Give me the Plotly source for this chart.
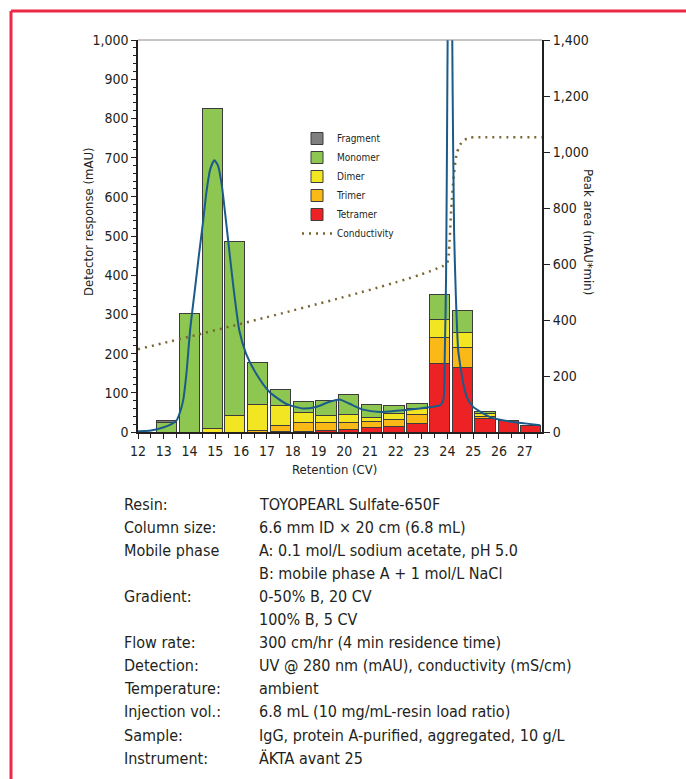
import plotly.graph_objects as go

# ---------------- data ----------------
# fraction centres (CV)
frac_cv = [13.11, 14.00, 14.89, 15.76, 16.64, 17.53, 18.41, 19.29, 20.18,
           21.07, 21.93, 22.82, 23.70, 24.57, 25.46, 26.36, 27.23]
# peak areas per fraction (mAU*min)
tetramer = [0, 0, 0, 0, 0, 1, 1, 6, 10, 15, 21, 32, 244, 232, 50, 42, 22]
trimer   = [0, 0, 0, 0, 6, 21, 32, 28, 24, 22, 25, 31, 94, 69, 7, 0, 0]
dimer    = [0, 0, 13, 60, 92, 73, 36, 24, 27, 16, 20, 21, 64, 56, 8, 0, 0]
monomer  = [34, 423, 1142, 619, 151, 57, 39, 53, 74, 45, 27, 18, 88, 76, 8, 0, 0]
fragment = [8, 0, 0, 0, 0, 0, 0, 0, 0, 0, 0, 0, 0, 0, 0, 0, 0]

# UV chromatogram (mAU)
uv_cv = [12.0, 12.5, 13.0, 13.3, 13.5, 13.6, 13.75, 13.88, 14.02, 14.2, 14.37, 14.53,
         14.65, 14.8, 14.96, 15.1, 15.25, 15.41, 15.54, 15.7, 15.93, 16.19, 16.58,
         17.1, 17.75, 18.4, 18.9, 19.43, 19.82, 20.21, 20.73, 21.38, 22.03, 22.93,
         23.5, 23.71, 23.84, 23.9, 23.95, 24.0, 24.05, 24.1, 24.15, 24.2, 24.26,
         24.33, 24.42, 24.49, 24.62, 24.75, 25.0, 25.4, 25.66, 26.0, 26.56, 27.0, 27.6]
uv_mau = [2, 4, 12, 20, 30, 45, 80, 150, 259, 360, 455, 540,
          610, 670, 693, 680, 630, 540, 463, 370, 259, 200, 149,
          102, 72, 60, 64, 77, 83, 72, 57, 51, 54, 60,
          65, 68, 81, 200, 400, 900, 1400, 1800, 1400, 900, 514,
          344, 208, 174, 123, 89, 64, 47, 38, 32, 25.5, 22, 17]

# conductivity trace (plotted on the mAU scale)
cond_cv = [12.0, 23.97, 24.06, 24.15, 24.25, 24.36, 24.5, 24.62, 24.88, 25.2, 27.67]
cond_val = [211, 430, 463, 570, 655, 710, 733, 744, 751, 752, 752]

x_ticks = list(range(12, 28))

info_labels = ["Resin:", "Column size:", "Mobile phase", "", "Gradient:", "",
               "Flow rate:", "Detection:", "Temperature:", "Injection vol.:",
               "Sample:", "Instrument:"]
info_values = ["TOYOPEARL Sulfate-650F",
               "6.6 mm ID × 20 cm (6.8 mL)",
               "A: 0.1 mol/L sodium acetate, pH 5.0",
               "B: mobile phase A + 1 mol/L NaCl",
               "0-50% B, 20 CV",
               "100% B, 5 CV",
               "300 cm/hr (4 min residence time)",
               "UV @ 280 nm (mAU), conductivity (mS/cm)",
               "ambient",
               "6.8 mL (10 mg/mL-resin load ratio)",
               "IgG, protein A-purified, aggregated, 10 g/L",
               "ÄKTA avant 25"]

# ---------------- styling ----------------
FONT = "Liberation Sans Narrow, Arial Narrow, DejaVu Sans Condensed, sans-serif"
INK = "#231f20"
PL, PT, PW, PH = 138, 40, 404, 392


def px(x):
    return (x - PL) / PW


def py(y):
    return (PT + PH - y) / PH


fig = go.Figure()

series = [("Tetramer", tetramer, "#ed2224", 5),
          ("Trimer", trimer, "#fbb917", 4),
          ("Dimer", dimer, "#f2e622", 3),
          ("Monomer", monomer, "#8dc650", 2),
          ("Fragment", fragment, "#7f7f7f", 1)]
for name, vals, col, rank in series:
    fig.add_trace(go.Bar(
        x=frac_cv, y=vals, name=name, width=0.78, yaxis="y",
        marker=dict(color=col, line=dict(color="#3c3c3c", width=1)),
        legendrank=rank))

fig.add_trace(go.Scatter(
    x=cond_cv, y=cond_val, name="Conductivity", mode="lines", yaxis="y2",
    line=dict(color="#7b6633", width=2.5, dash="2px,5px", shape="spline", smoothing=0.6),
    legendrank=6))

fig.add_trace(go.Scatter(
    x=uv_cv, y=uv_mau, name="UV", mode="lines", yaxis="y2", showlegend=False,
    line=dict(color="#1a5b8a", width=2, shape="spline", smoothing=0.6)))

axis_common = dict(showgrid=False, zeroline=False, showline=True,
                   linecolor=INK, ticks="outside", tickcolor=INK,
                   tickfont=dict(family=FONT, size=14, color=INK))

fig.update_layout(
    width=686, height=779,
    margin=dict(l=PL, r=686 - PL - PW, t=PT, b=779 - PT - PH),
    paper_bgcolor="white", plot_bgcolor="white",
    barmode="stack",
    font=dict(family=FONT, color=INK),
    xaxis=dict(range=[12, 27.67], tickvals=x_ticks, ticklen=5, linewidth=2,
               minor=dict(dtick=0.5, ticks="outside", ticklen=4, tickcolor=INK),
               **axis_common),
    # peak area axis (right) carries the bars
    yaxis=dict(range=[0, 1400], dtick=200, tickformat=",", ticklen=6, linewidth=2,
               side="right", **axis_common),
    # detector response axis (left) carries the lines, drawn above the bars
    yaxis2=dict(range=[0, 1000], dtick=100, tickformat=",", ticklen=5, linewidth=1.5,
                overlaying="y", side="left",
                minor=dict(dtick=20, ticks="outside", ticklen=3, tickcolor=INK),
                **axis_common),
    legend=dict(x=px(297), y=py(124), xanchor="left", yanchor="top",
                traceorder="normal", bgcolor="rgba(0,0,0,0)",
                font=dict(family=FONT, size=10, color=INK),
                itemwidth=30, tracegroupgap=0),
    showlegend=True,
)

ann = []
ann.append(dict(text="Retention (CV)", x=px(334), y=py(469), xref="paper", yref="paper",
                xanchor="center", yanchor="middle",
                showarrow=False, font=dict(family=FONT, size=13, color=INK)))
ann.append(dict(text="Detector response (mAU)", x=px(88), y=py(222), xref="paper",
                yref="paper", xanchor="center", yanchor="middle",
                showarrow=False, textangle=-90,
                font=dict(family=FONT, size=13, color=INK)))
ann.append(dict(text="Peak area (mAU*min)", x=px(589), y=py(232), xref="paper",
                yref="paper", xanchor="center", yanchor="middle",
                showarrow=False, textangle=90,
                font=dict(family=FONT, size=13, color=INK)))

row_y0, row_dy = 504, 23.1
for i, (lab, val) in enumerate(zip(info_labels, info_values)):
    yy = py(row_y0 + i * row_dy)
    if lab:
        ann.append(dict(text=lab, x=px(122), y=yy, xref="paper", yref="paper",
                        xanchor="left", yanchor="middle", showarrow=False,
                        font=dict(family=FONT, size=16, color=INK)))
    ann.append(dict(text=val, x=px(257), y=yy, xref="paper", yref="paper",
                    xanchor="left", yanchor="middle", showarrow=False,
                    font=dict(family=FONT, size=16, color=INK)))
fig.update_layout(annotations=ann)

shapes = [
    # top frame line of the plot area
    dict(type="line", xref="paper", yref="paper", x0=0, x1=1, y0=1, y1=1,
         line=dict(color="#8a8a8a", width=1)),
    # red outer frame
    dict(type="line", xref="paper", yref="paper", x0=px(11), x1=px(720),
         y0=py(11), y1=py(11), line=dict(color="#ec2845", width=3)),
    dict(type="line", xref="paper", yref="paper", x0=px(11), x1=px(11),
         y0=py(11), y1=py(820), line=dict(color="#ec2845", width=3)),
]
fig.update_layout(shapes=shapes)

fig.write_html("out.html")
